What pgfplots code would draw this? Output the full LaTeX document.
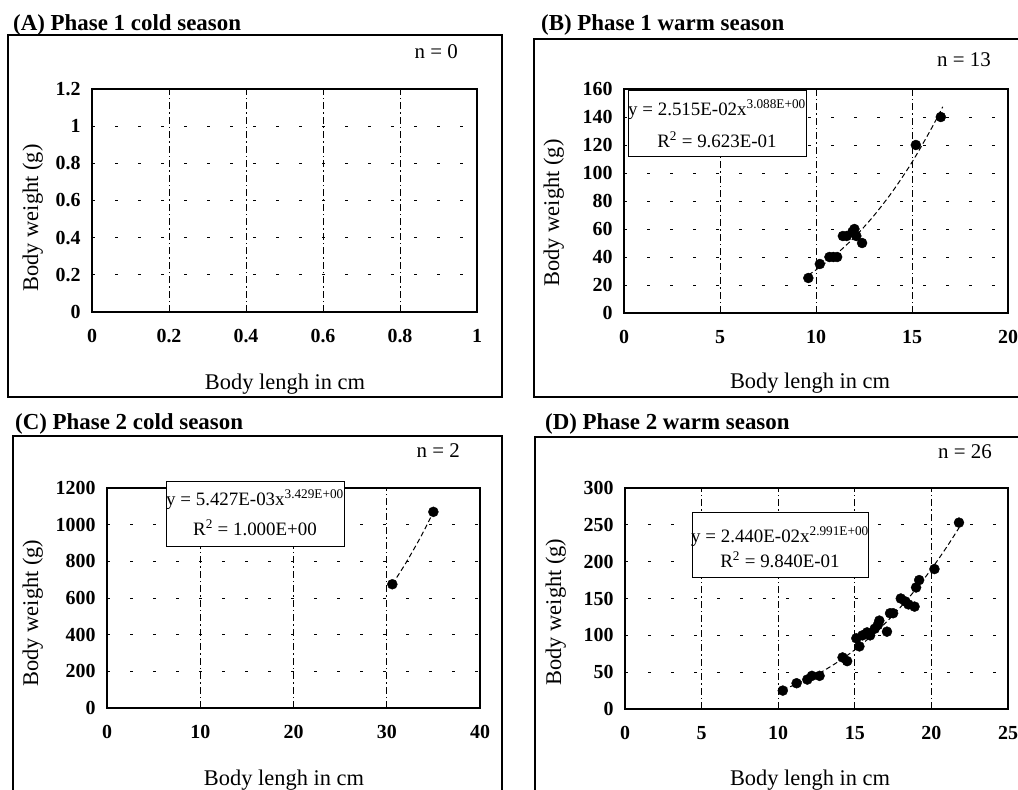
\documentclass[border=0pt]{standalone}
\usepackage{fontspec}
\setmainfont{Liberation Serif}
\usepackage{pgfplots}
\pgfplotsset{compat=1.18}
\pgfplotsset{
 panel/.style={
  scale only axis, anchor=south west,
  axis line style={black, line width=1.1bp},
  xmajorgrids, ymajorgrids,
  major x grid style={black, line width=0.8bp, dash pattern=on 7bp off 3bp on 1.5bp off 3bp},
  major y grid style={black, line width=0.9bp, dash pattern=on 3bp off 20bp},
  major tick length=0pt,
  tick style={draw=none},
  tick label style={font=\fontsize{20}{22}\selectfont\bfseries},
  /pgf/number format/assume math mode=true,
  /pgf/number format/1000 sep={},
  scaled ticks=false,
  xticklabel style={yshift=-14bp},
  yticklabel style={xshift=-8bp},
 },
 datap/.style={only marks, mark=*, mark size=5bp, mark options={fill=black, draw=black}},
 trend/.style={no marks, black, line width=1bp, dash pattern=on 5bp off 3bp, smooth},
}
\begin{document}
\begin{tikzpicture}
\useasboundingbox (0,0) rectangle (1018bp,-790bp);
% panel boxes
\draw[line width=1.6bp] (8bp,-35bp) rectangle (502bp,-397bp);
\draw[line width=1.6bp] (534bp,-39bp) rectangle (1030bp,-397bp);
\draw[line width=1.6bp] (13bp,-436bp) rectangle (502bp,-800bp);
\draw[line width=1.6bp] (535bp,-437bp) rectangle (1030bp,-800bp);

% (A)
\begin{axis}[panel, at={(92bp,-312bp)}, width=385bp, height=223bp,
  xmin=0, xmax=1, ymin=0, ymax=1.2,
  xtick={0,0.2,0.4,0.6,0.8,1}, ytick={0,0.2,0.4,0.6,0.8,1,1.2},
  xticklabels={0,0.2,0.4,0.6,0.8,1}, yticklabels={0,0.2,0.4,0.6,0.8,1,1.2}]
\addplot[draw=none, forget plot] coordinates {(0,0) (1,1.2)};
\end{axis}

% (B)
\begin{axis}[panel, at={(624bp,-313bp)}, width=384bp, height=224bp,
  xmin=0, xmax=20, ymin=0, ymax=160,
  xtick={0,5,10,15,20}, ytick={0,20,40,60,80,100,120,140,160}]
\addplot[trend] coordinates {(9.6,27.2) (10,30.8) (11,41.4) (12,54.1) (13,69.3) (14,87.1) (15,107.7) (16,131.5) (16.6,147.3)};
\addplot[datap] coordinates {(9.6,25) (10.2,35) (10.7,40) (10.9,40) (11.1,40) (11.4,55) (11.6,55) (11.9,58) (12.0,60) (12.1,55) (12.4,50) (15.2,120) (16.5,140)};
\end{axis}

% (C)
\begin{axis}[panel, at={(107bp,-708bp)}, width=373bp, height=220bp,
  xmin=0, xmax=40, ymin=0, ymax=1200,
  xtick={0,10,20,30,40}, ytick={0,200,400,600,800,1000,1200}]
\addplot[trend] coordinates {(30.6,675) (32,787) (33.5,920) (34.3,998) (35,1069)};
\addplot[datap] coordinates {(30.6,675) (35.0,1070)};
\end{axis}

% (D)
\begin{axis}[panel, at={(625bp,-709bp)}, width=383bp, height=221bp,
  xmin=0, xmax=25, ymin=0, ymax=300,
  xtick={0,5,10,15,20,25}, ytick={0,50,100,150,200,250,300}]
\addplot[trend] coordinates {(10.3,26.1) (12,41.2) (13,52.4) (14,65.4) (15,80.4) (16,97.5) (17,116.9) (18,138.6) (19,163.0) (20,190.0) (21,219.9) (21.8,245.9)};
\addplot[datap] coordinates {(10.3,25) (11.2,35) (11.9,40) (12.2,45) (12.7,45) (14.2,70) (14.5,65) (15.1,96) (15.3,85) (15.5,100) (15.8,104) (16.0,100) (16.3,109) (16.5,114) (16.6,120) (17.1,105) (17.3,130) (17.5,130) (18.0,150) (18.3,146) (18.5,142) (18.9,139) (19.0,165) (19.2,175) (20.2,190) (21.8,253)};
\end{axis}

% titles
\begin{scope}[every node/.style={font=\fontsize{23}{26}\selectfont\bfseries, inner sep=0}]
\node[anchor=base west] at (13bp,-30bp) {(A) Phase 1 cold season};
\node[anchor=base west] at (541bp,-30bp) {(B) Phase 1 warm season};
\node[anchor=base west] at (15bp,-429bp) {(C) Phase 2 cold season};
\node[anchor=base west] at (545bp,-429bp) {(D) Phase 2 warm season};
\end{scope}

% n labels
\begin{scope}[every node/.style={font=\fontsize{21}{24}\selectfont, inner sep=0, anchor=base east}]
\node at (458bp,-58bp) {n = 0};
\node at (991bp,-66bp) {n = 13};
\node at (460bp,-457bp) {n = 2};
\node at (992bp,-458bp) {n = 26};
\end{scope}

% axis labels
\begin{scope}[every node/.style={font=\fontsize{22.5}{25}\selectfont, inner sep=0, anchor=base}]
\node at (285bp,-389bp) {Body lengh in cm};
\node at (810bp,-388bp) {Body lengh in cm};
\node at (284bp,-785bp) {Body lengh in cm};
\node at (810bp,-785bp) {Body lengh in cm};
\node[rotate=90] at (38bp,-218bp) {Body weight (g)};
\node[rotate=90] at (559bp,-213bp) {Body weight (g)};
\node[rotate=90] at (38bp,-613bp) {Body weight (g)};
\node[rotate=90] at (561bp,-612bp) {Body weight (g)};
\end{scope}

% equation boxes
\draw[line width=1bp, fill=white] (628bp,-90bp) rectangle (806bp,-156bp);
\draw[line width=1bp, fill=white] (166bp,-481bp) rectangle (344bp,-546bp);
\draw[line width=1bp, fill=white] (692bp,-512bp) rectangle (868bp,-577bp);
\begin{scope}[every node/.style={font=\fontsize{19}{22}\selectfont, inner sep=0, anchor=base}]
\node at (717bp,-115bp) {y = 2.515E-02x\textsuperscript{3.088E+00}};
\node at (717bp,-147bp) {R\textsuperscript{2} = 9.623E-01};
\node at (255bp,-505bp) {y = 5.427E-03x\textsuperscript{3.429E+00}};
\node at (255bp,-535bp) {R\textsuperscript{2} = 1.000E+00};
\node at (780bp,-542bp) {y = 2.440E-02x\textsuperscript{2.991E+00}};
\node at (780bp,-567bp) {R\textsuperscript{2} = 9.840E-01};
\end{scope}
\end{tikzpicture}
\end{document}
